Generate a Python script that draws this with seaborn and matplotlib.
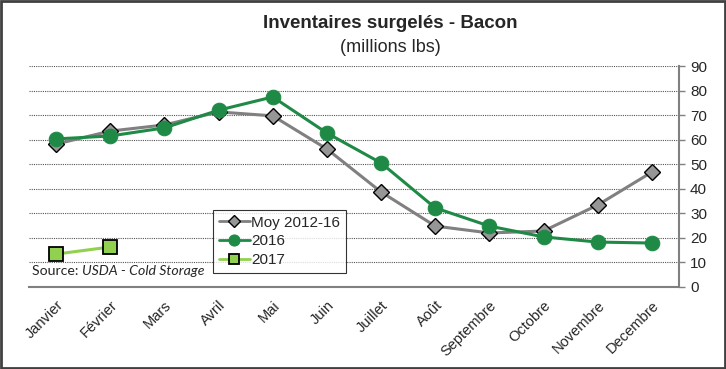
import matplotlib
matplotlib.use("Agg")
import matplotlib.pyplot as plt
import seaborn as sns
import pandas as pd
from matplotlib.patches import Rectangle

months = ["Janvier", "Février", "Mars", "Avril", "Mai", "Juin", "Juillet",
          "Août", "Septembre", "Octobre", "Novembre", "Decembre"]
moy_2012_16 = [58.2, 63.5, 66.0, 71.3, 69.7, 56.2, 38.7, 24.8, 22.0, 22.8, 33.4, 46.8]
y2016 = [60.3, 61.5, 64.8, 72.0, 77.4, 62.7, 50.5, 32.2, 24.8, 20.4, 18.3, 17.9]
y2017 = [13.4, 16.3]

sns.set_style("white")
plt.rcParams["font.family"] = ["Liberation Sans", "DejaVu Sans"]

fig = plt.figure(figsize=(7.26, 3.69), dpi=100)
ax = fig.add_axes([29 / 726, 1 - 287 / 369, 650 / 726, 221 / 369])

pos = list(range(len(months)))
df_moy = pd.DataFrame({"x": pos, "v": moy_2012_16})
df_16 = pd.DataFrame({"x": pos, "v": y2016})
df_17 = pd.DataFrame({"x": pos[:len(y2017)], "v": y2017})

sns.lineplot(data=df_moy, x="x", y="v", ax=ax, color="#808080", lw=2.2,
             marker="D", markersize=8, markerfacecolor="#969696",
             markeredgecolor="black", markeredgewidth=1.0, label="Moy 2012-16")
sns.lineplot(data=df_16, x="x", y="v", ax=ax, color="#1F8A46", lw=2.2,
             marker="o", markersize=10.5, markerfacecolor="#1F8A46",
             markeredgecolor="#1F8A46", label="2016")
sns.lineplot(data=df_17, x="x", y="v", ax=ax, color="#92D050", lw=2.2,
             marker="s", markersize=10, markerfacecolor="#92D050",
             markeredgecolor="black", markeredgewidth=1.3, label="2017")

ax.set_xlim(-0.5, 11.5)
ax.set_ylim(0, 90)
ax.set_yticks(range(0, 91, 10))
ax.yaxis.tick_right()
ax.set_xticks(pos)
ax.set_xticklabels(months, rotation=45, ha="right", rotation_mode="anchor", fontsize=10.5)
ax.set_xticks([p - 0.5 for p in pos] + [11.5], minor=True)
ax.tick_params(axis="x", which="major", length=0, pad=8)
ax.tick_params(axis="x", which="minor", length=5, color="#808080", width=1, direction="out")
ax.tick_params(axis="y", length=4, color="#808080", width=1, direction="out", labelsize=11, pad=4)
ax.set_xlabel("")
ax.set_ylabel("")
ax.grid(axis="y", color="#555555", linestyle=(0, (1, 1)), linewidth=0.8)
ax.set_axisbelow(True)
for s in ["top", "left"]:
    ax.spines[s].set_visible(False)
ax.spines["right"].set_color("#808080")
ax.spines["bottom"].set_color("#808080")
ax.spines["right"].set_linewidth(1.5)
ax.spines["bottom"].set_linewidth(1.5)

leg = ax.legend(loc="upper left", bbox_to_anchor=(0.283, 0.35), frameon=True,
                fancybox=False, edgecolor="black", fontsize=11,
                handlelength=2.0, handletextpad=0.1, borderpad=0.4,
                labelspacing=0.3, borderaxespad=0)
leg.get_frame().set_linewidth(0.8)
for h, ms in zip(leg.legend_handles, [6, 8, 7]):
    h.set_markersize(ms)
    h.set_linewidth(2)

src_font = ["Lato", "DejaVu Sans"]
t1 = ax.text(0.004, 0.045, "Source: ", transform=ax.transAxes, fontsize=10.2,
             family=src_font, va="bottom")
fig.canvas.draw()
bb = t1.get_window_extent().transformed(ax.transAxes.inverted())
ax.text(bb.x1, 0.045, "USDA - Cold Storage", transform=ax.transAxes, fontsize=10.2,
        family=src_font, style="italic", va="bottom")

fig.text(390 / 726, 1 - 24 / 369, "Inventaires surgelés - Bacon", ha="center", va="center",
         fontsize=13.5, fontweight="bold", family=["Liberation Sans Narrow", "Liberation Sans", "DejaVu Sans"])
fig.text(390 / 726, 1 - 47 / 369, "(millions lbs)", ha="center", va="center",
         fontsize=13, family=["Liberation Sans Narrow", "Liberation Sans", "DejaVu Sans"])

fig.patches.append(Rectangle((0.001, 0.002), 0.997, 0.995, transform=fig.transFigure,
                             fill=False, edgecolor="#404040", linewidth=2))

fig.savefig("out.png", dpi=100)
